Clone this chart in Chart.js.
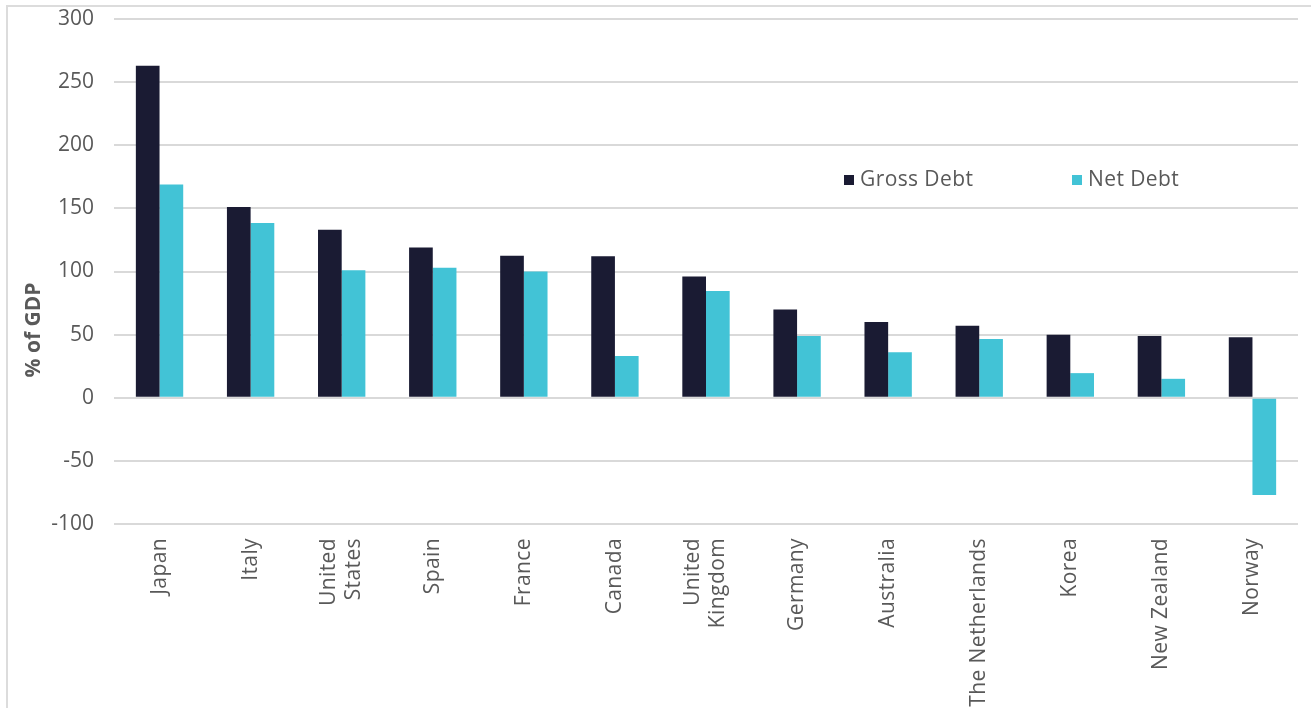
<!DOCTYPE html>
<html>
<head>
<meta charset="utf-8">
<script src="https://cdn.jsdelivr.net/npm/chart.js@4/dist/chart.umd.min.js"></script>
<style>
  html, body { margin: 0; padding: 0; background: #fff; overflow: hidden; }
  #wrap { position: relative; width: 1311px; height: 708px; }
  #frame {
    position: absolute; left: 6px; top: 5px; right: -4px; bottom: -4px;
    border-left: 2px solid #dcdcdc; border-top: 2px solid #dcdcdc;
  }
  canvas { position: absolute; left: 0; top: 0; }
</style>
</head>
<body>
<div id="wrap">
  <div id="frame"></div>
  <canvas id="debtChart" width="1311" height="708"></canvas>
</div>
<script>
var countries = [
  ['Japan'], ['Italy'], ['United', 'States'], ['Spain'], ['France'], ['Canada'],
  ['United', 'Kingdom'], ['Germany'], ['Australia'], ['The Netherlands'],
  ['Korea'], ['New Zealand'], ['Norway']
];
var grossDebt = [263, 151, 133, 119, 112.5, 112, 96, 70, 60, 57, 50, 49, 48];
var netDebt = [169, 138.5, 101, 103, 100, 33, 84.5, 49, 36, 46.5, 19.5, 15, -77];
var yTicks = [-100, -50, 0, 50, 100, 150, 200, 250, 300];

var textColor = '#595959';
var fontFamily = '"Open Sans", "DejaVu Sans", sans-serif';

// rotated country names, each block centred on its category
var countryLabels = {
  id: 'countryLabels',
  afterDraw: function(chart) {
    var ctx = chart.ctx;
    var x = chart.scales.x;
    var lineHeight = 25;
    ctx.save();
    ctx.fillStyle = textColor;
    ctx.font = '21px ' + fontFamily;
    ctx.letterSpacing = '0.4px';
    ctx.textAlign = 'right';
    ctx.textBaseline = 'middle';
    countries.forEach(function(lines, i) {
      var cx = x.getPixelForTick(i);
      var start = cx - (lines.length - 1) * lineHeight / 2;
      lines.forEach(function(line, j) {
        ctx.save();
        ctx.translate(start + j * lineHeight, chart.chartArea.bottom + 14);
        ctx.rotate(-Math.PI / 2);
        ctx.fillText(line, 0, 0);
        ctx.restore();
      });
    });
    ctx.restore();
  }
};

// y axis title and the in-plot legend
var extras = {
  id: 'extras',
  afterDraw: function(chart) {
    var ctx = chart.ctx;
    ctx.save();
    ctx.fillStyle = textColor;
    ctx.font = 'bold 21px ' + fontFamily;
    ctx.textAlign = 'center';
    ctx.textBaseline = 'middle';
    ctx.translate(34, 330);
    ctx.rotate(-Math.PI / 2);
    ctx.fillText('% of GDP', 0, 0);
    ctx.restore();

    var legendX = [844, 1072];
    ctx.save();
    ctx.font = '21px ' + fontFamily;
    ctx.letterSpacing = '0.4px';
    ctx.textBaseline = 'middle';
    chart.data.datasets.forEach(function(ds, i) {
      ctx.fillStyle = ds.backgroundColor;
      ctx.fillRect(legendX[i], 175, 10, 10);
      ctx.fillStyle = textColor;
      ctx.fillText(ds.label, legendX[i] + 16, 180);
    });
    ctx.restore();
  }
};

new Chart(document.getElementById('debtChart'), {
  type: 'bar',
  data: {
    labels: countries.map(function(l) { return l.join(' '); }),
    datasets: [
      { label: 'Gross Debt', data: grossDebt, backgroundColor: '#1a1b33' },
      { label: 'Net Debt', data: netDebt, backgroundColor: '#42c3d6' }
    ]
  },
  options: {
    responsive: false,
    animation: false,
    layout: { padding: { left: 0, right: 13, top: 19, bottom: 0 } },
    datasets: {
      bar: { categoryPercentage: 0.52, barPercentage: 1.0, borderWidth: 0 }
    },
    plugins: {
      legend: { display: false },
      tooltip: { enabled: false }
    },
    scales: {
      x: {
        grid: { display: false },
        border: { display: false },
        ticks: { display: false },
        afterFit: function(scale) { scale.height = 184; }
      },
      y: {
        min: yTicks[0],
        max: yTicks[yTicks.length - 1],
        afterBuildTicks: function(scale) {
          scale.ticks = yTicks.map(function(v) { return { value: v }; });
        },
        afterFit: function(scale) { scale.width = 114; },
        // invisible tick marks hold the gap between labels and plot
        grid: { color: '#d9d9d9', lineWidth: 2, drawTicks: true, tickLength: 20, tickColor: 'rgba(0,0,0,0)' },
        border: { display: false },
        ticks: {
          color: textColor,
          padding: 0,
          font: { family: fontFamily, size: 21 }
        }
      }
    }
  },
  plugins: [countryLabels, extras]
});
</script>
</body>
</html>
